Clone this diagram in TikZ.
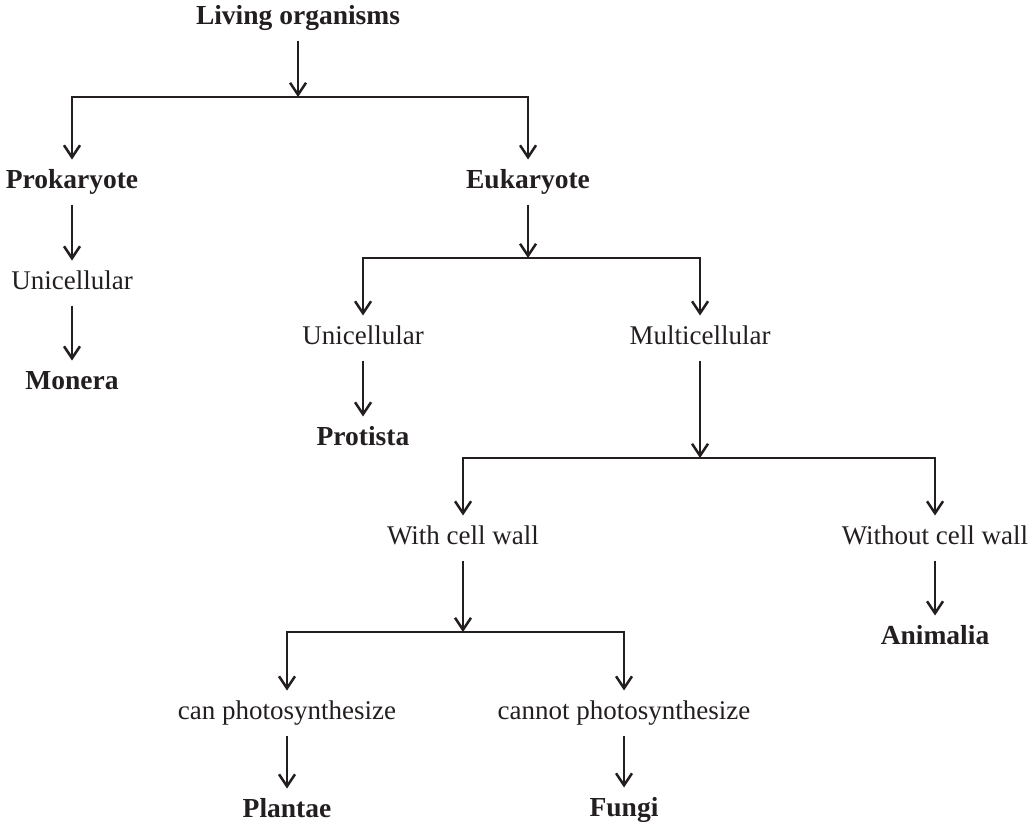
\documentclass[tikz,border=0pt]{standalone}
\usepackage{fontspec}
\setmainfont{Liberation Serif}
\usetikzlibrary{arrows.meta}
\definecolor{ink}{HTML}{231F20}
\begin{document}
\begin{tikzpicture}[x=1pt,y=-1pt,
  lab/.style={inner sep=0pt,outer sep=10pt,text height=19pt,text depth=6pt,font=\fontsize{27}{30}\selectfont,text=ink},
  bl/.style={lab,font=\fontsize{27.5}{30}\selectfont\bfseries},
  arr/.style={draw=ink,line width=2.5pt,-{Straight Barb[length=12pt,width=16pt,line width=2.5pt]}},
]
\useasboundingbox (0,0) rectangle (1031,822);
% nodes
\node[bl]  (lo)  at (298,18)  {Living organisms};
\node[bl]  (pro) at (72,182)  {Prokaryote};
\node[bl]  (eu)  at (528,182) {Eukaryote};
\node[lab] (pu)  at (72,283)  {Unicellular};
\node[bl]  (mon) at (72,383)  {Monera};
\node[lab] (eun) at (363,338) {Unicellular};
\node[lab] (mul) at (700,338) {Multicellular};
\node[bl]  (prt) at (363,439) {Protista};
\node[lab] (wcw) at (463,538) {With cell wall};
\node[lab] (ncw) at (935,538) {Without cell wall};
\node[bl]  (ani) at (935,638) {Animalia};
\node[lab] (cp)  at (287,713) {can photosynthesize};
\node[lab] (np)  at (624,713) {cannot photosynthesize};
\node[bl]  (pla) at (287,811) {Plantae};
\node[bl]  (fun) at (624,810) {Fungi};
% junction points
\coordinate (b1) at (298,97);
\coordinate (b2) at (528,258);
\coordinate (b3) at (700,458);
\coordinate (b4) at (463,632);
% connectors
\draw[arr] (lo) -- (b1);
\draw[arr] (b1) -| (pro);
\draw[arr] (b1) -| (eu);
\draw[arr] (pro) -- (pu);
\draw[arr] (pu) -- (mon);
\draw[arr] (eu) -- (b2);
\draw[arr] (b2) -| (eun);
\draw[arr] (b2) -| (mul);
\draw[arr] (eun) -- (prt);
\draw[arr] (mul) -- (b3);
\draw[arr] (b3) -| (wcw);
\draw[arr] (b3) -| (ncw);
\draw[arr] (ncw) -- (ani);
\draw[arr] (wcw) -- (b4);
\draw[arr] (b4) -| (cp);
\draw[arr] (b4) -| (np);
\draw[arr] (cp) -- (pla);
\draw[arr] (np) -- (fun);
\end{tikzpicture}
\end{document}
